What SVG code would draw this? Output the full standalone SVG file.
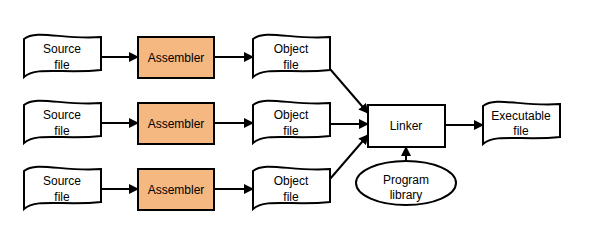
<svg xmlns="http://www.w3.org/2000/svg" width="596" height="236" viewBox="0 0 596 236">
<defs>
<style>
.sh{fill:#fff;stroke:#000;stroke-width:2}
.asm{fill:#F4B880;stroke:#000;stroke-width:2}
.t{font-family:"Liberation Sans",Arial,sans-serif;font-size:12px;fill:#000;text-anchor:middle}
.c{stroke:#000;stroke-width:2;fill:none;marker-end:url(#ah)}
</style>
<marker id="ah" viewBox="0 0 10 10" refX="9" refY="5" markerWidth="5" markerHeight="5" orient="auto" markerUnits="strokeWidth">
<path d="M0,0 L10,5 L0,10 z" fill="#000"/>
</marker>
<path id="tape" d="M0,3 C12,-7 40,4 77,1 L77,34 C40,38 12,30 0,41 Z"/>
</defs>
<rect width="596" height="236" fill="#fff"/>
<g id="src1"><use href="#tape" x="24" y="36" class="sh"/><text class="t" x="62" y="53">Source</text><text class="t" x="62" y="69">file</text></g>
<g id="src2"><use href="#tape" x="24" y="102" class="sh"/><text class="t" x="62" y="119">Source</text><text class="t" x="62" y="135">file</text></g>
<g id="src3"><use href="#tape" x="24" y="168" class="sh"/><text class="t" x="62" y="185">Source</text><text class="t" x="62" y="201">file</text></g>
<g id="asm1"><rect class="asm" x="138" y="37" width="76" height="41"/><text class="t" x="176" y="62">Assembler</text></g>
<g id="asm2"><rect class="asm" x="138" y="103" width="76" height="41"/><text class="t" x="176" y="128">Assembler</text></g>
<g id="asm3"><rect class="asm" x="138" y="169" width="76" height="41"/><text class="t" x="176" y="194">Assembler</text></g>
<g id="obj1"><use href="#tape" x="253" y="36" class="sh"/><text class="t" x="291" y="53">Object</text><text class="t" x="291" y="69">file</text></g>
<g id="obj2"><use href="#tape" x="253" y="102" class="sh"/><text class="t" x="291" y="119">Object</text><text class="t" x="291" y="135">file</text></g>
<g id="obj3"><use href="#tape" x="253" y="168" class="sh"/><text class="t" x="291" y="185">Object</text><text class="t" x="291" y="201">file</text></g>
<g id="linker"><rect class="sh" x="368" y="105" width="77" height="42"/><text class="t" x="406" y="130">Linker</text></g>
<g id="exe"><use href="#tape" x="483" y="103" class="sh"/><text class="t" x="521" y="120">Executable</text><text class="t" x="521" y="135">file</text></g>
<g id="lib"><ellipse class="sh" cx="406" cy="183" rx="50" ry="22"/><text class="t" x="406" y="184">Program</text><text class="t" x="406" y="199">library</text></g>
<g id="connectors">
<path class="c" d="M101,57 L138,57"/>
<path class="c" d="M101,123 L138,123"/>
<path class="c" d="M101,189 L138,189"/>
<path class="c" d="M214,57 L253,57"/>
<path class="c" d="M214,123 L253,123"/>
<path class="c" d="M214,189 L253,189"/>
<path class="c" d="M330,69 L368,113"/>
<path class="c" d="M330,124 L368,124"/>
<path class="c" d="M330,179 L368,135"/>
<path class="c" d="M445,125 L483,125"/>
<path class="c" d="M406,161 L406,147"/>
</g>
</svg>
